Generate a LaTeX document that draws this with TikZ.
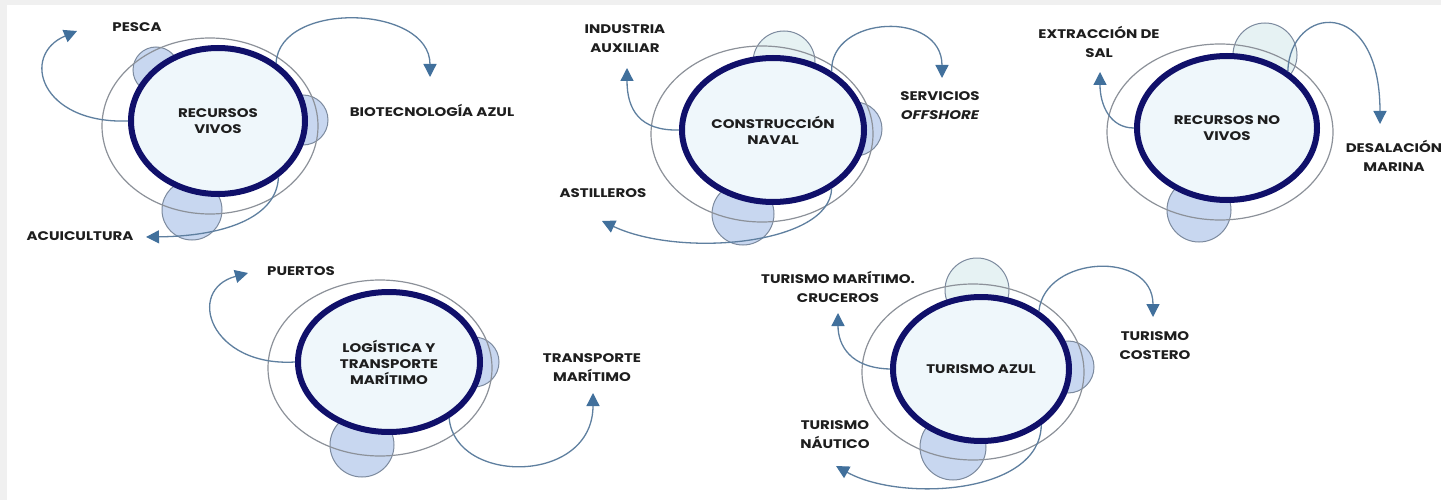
\documentclass[tikz,border=0pt]{standalone}
\usepackage{fontspec}
\setmainfont{Poppins}
\newfontfamily\lblfont{Poppins}[FakeStretch=1.2]
\usetikzlibrary{shapes.geometric,arrows.meta}
\definecolor{frame}{HTML}{F0F0F0}
\definecolor{navy}{HTML}{10106A}
\definecolor{corefill}{HTML}{EFF7FB}
\definecolor{blob}{HTML}{C8D7F0}
\definecolor{blobl}{HTML}{E6F2F3}
\definecolor{blobline}{HTML}{7C8A9E}
\definecolor{ring}{HTML}{8C9199}
\definecolor{arr}{HTML}{5E7F9F}
\definecolor{arrhead}{HTML}{41709C}
\definecolor{txt}{HTML}{1E1E1E}
\tikzset{
  core/.style={ellipse, draw=navy, line width=6pt, fill=corefill, inner sep=0pt,
    font=\lblfont\bfseries\fontsize{12.5}{16}\selectfont, text=txt, align=center},
  ringst/.style={draw=ring, line width=1.2pt},
  blobst/.style={draw=blobline, line width=1pt, fill=blob},
  blobls/.style={draw=blobline, line width=1pt, fill=blobl},
  lab/.style={font=\lblfont\bfseries\fontsize{12.5}{19}\selectfont, text=txt, align=center, inner sep=0pt},
  conn/.style={draw=arr, line width=1.3pt, -{Triangle[length=13pt,width=13pt,color=arrhead,fill=arrhead]}},
}
\begin{document}
\begin{tikzpicture}[x=1pt,y=-1pt]
\useasboundingbox (0,0) rectangle (1441,500);
\fill[frame] (0,0) rectangle (1441,500);
\fill[white] (7,5) rectangle (1441,500);

% ---------- 1: RECURSOS VIVOS ----------
\draw[blobst] (156,70) circle (23);
\draw[blobst] (303,120) circle (25);
\draw[blobst] (192,210) circle (30);
\draw[ringst] (210,126) ellipse (108 and 88);
\node[core, minimum width=174pt, minimum height=146pt] (rv) at (218,121) {RECURSOS\\VIVOS};
\node[lab] (pesca) at (137,27) {PESCA};
\node[lab] (bio) at (432,110) {BIOTECNOLOGÍA AZUL};
\node[lab] (acui) at (80,236) {ACUICULTURA};
\coordinate (pescaE) at (77,31);
\coordinate (bioE) at (430,77);
\coordinate (acuiE) at (146,237);
\draw[conn] (rv.180) .. controls (40,124) and (20,55) .. (pescaE);
\draw[conn] (rv.45) .. controls (280,0) and (430,5) .. (bioE);
\draw[conn] (rv.-43) .. controls (277,215) and (230,236) .. (acuiE);

% ---------- 2: CONSTRUCCION NAVAL ----------
\draw[blobls] (784,62) circle (31);
\draw[blobst] (855,129) circle (27);
\draw[blobst] (743,214) circle (31);
\draw[ringst] (762,134) ellipse (111 and 88);
\node[core, minimum width=182pt, minimum height=144pt] (cn) at (773,130) {CONSTRUCCIÓN\\NAVAL};
\node[lab] (ind) at (625,39) {INDUSTRIA\\AUXILIAR};
\node[lab] (serv) at (940,106) {SERVICIOS\\\itshape OFFSHORE};
\node[lab] (ast) at (603,193) {ASTILLEROS};
\coordinate (indE) at (627,68);
\coordinate (servE) at (942,78);
\coordinate (astE) at (602,221);
\draw[conn] (cn.180) .. controls (640,131) and (627,110) .. (indE);
\draw[conn] (cn.45) .. controls (830,15) and (942,10) .. (servE);
\draw[conn] (cn.-45) .. controls (830,245) and (680,258) .. (astE);

% ---------- 3: RECURSOS NO VIVOS ----------
\draw[blobls] (1265,55) circle (32);
\draw[blobst] (1199,210) circle (32);
\draw[ringst] (1220,132) ellipse (113 and 88);
\node[core, minimum width=180pt, minimum height=144pt] (rn) at (1227,128) {RECURSOS NO\\VIVOS};
\node[lab] (ext) at (1099,42) {EXTRACCIÓN DE\\SAL};
\node[lab] (des) at (1394,156) {DESALACIÓN\\MARINA};
\coordinate (extE) at (1100,72);
\coordinate (desE) at (1380,124);
\draw[conn] (rn.180) .. controls (1110,128) and (1100,105) .. (extE);
\draw[conn] (rn.43) .. controls (1290,5) and (1380,-5) .. (desE);

% ---------- 4: LOGISTICA Y TRANSPORTE MARITIMO ----------
\draw[blobst] (474,362) circle (25);
\draw[blobst] (362,445) circle (32);
\draw[ringst] (380,368) ellipse (112 and 88);
\node[core, minimum width=182pt, minimum height=140pt] (lt) at (389,362) {LOGÍSTICA Y\\TRANSPORTE\\MARÍTIMO};
\node[lab] (pue) at (301,271) {PUERTOS};
\node[lab] (tra) at (592,368) {TRANSPORTE\\MARÍTIMO};
\coordinate (pueE) at (248,273);
\coordinate (traE) at (593,393);
\draw[conn] (lt.180) .. controls (210,367) and (185,290) .. (pueE);
\draw[conn] (lt.-43) .. controls (455,485) and (593,485) .. (traE);

% ---------- 5: TURISMO AZUL ----------
\draw[blobls] (977,290) circle (32);
\draw[blobst] (1068,367) circle (26);
\draw[blobst] (953,447) circle (33);
\draw[ringst] (973,372) ellipse (111 and 88);
\node[core, minimum width=176pt, minimum height=144pt] (ta) at (981,369) {TURISMO AZUL};
\node[lab] (cru) at (838,287) {TURISMO MARÍTIMO.\\CRUCEROS};
\node[lab] (cos) at (1155,346) {TURISMO\\COSTERO};
\node[lab] (nau) at (835,435) {TURISMO\\NÁUTICO};
\coordinate (cruE) at (838,313);
\coordinate (cosE) at (1153,317);
\coordinate (nauE) at (836,466);
\draw[conn] (ta.180) .. controls (850,368) and (838,345) .. (cruE);
\draw[conn] (ta.45) .. controls (1045,255) and (1153,250) .. (cosE);
\draw[conn] (ta.-43) .. controls (1040,495) and (900,502) .. (nauE);
\end{tikzpicture}
\end{document}
